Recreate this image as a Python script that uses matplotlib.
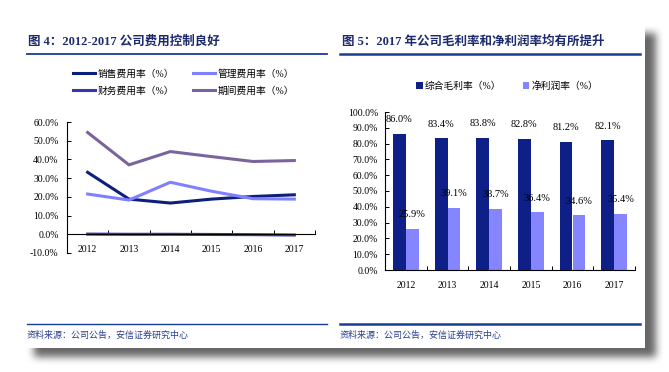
import numpy as np
import matplotlib
matplotlib.use("Agg")
import matplotlib.pyplot as plt
from matplotlib.patches import Rectangle
from matplotlib.ticker import FixedLocator, FuncFormatter

plt.rcParams['font.family'] = ['Liberation Serif', 'Noto Sans CJK SC']
plt.rcParams['axes.unicode_minus'] = False

# chart data
years = ['2012', '2013', '2014', '2015', '2016', '2017']
sales_rate = [33.1, 18.8, 16.7, 18.8, 20.2, 21.1]
admin_rate = [21.5, 18.3, 27.8, 23.0, 19.0, 18.8]
fin_rate = [0.1, 0.0, 0.0, -0.1, -0.2, -0.4]
period_rate = [54.4, 37.1, 44.2, 41.5, 38.9, 39.4]

gross_margin = [86.0, 83.4, 83.8, 82.8, 81.2, 82.1]
net_margin = [25.9, 39.1, 38.7, 36.4, 34.6, 35.4]

W, H = 669, 372
fig = plt.figure(figsize=(W / 100, H / 100), dpi=100)
fig.patch.set_facecolor('white')


def fx(px):
    return px / W


def fy(py):
    return 1 - py / H


# background: drop shadow + white panel
bg = fig.add_axes([0, 0, 1, 1], zorder=0)
bg.set_xlim(0, W)
bg.set_ylim(H, 0)
bg.axis('off')
mask = np.zeros((H, W))
mask[33:357, 34:656] = 1.0
k = np.ones(9) / 9
for _ in range(2):
    mask = np.apply_along_axis(lambda m: np.convolve(m, k, mode='same'), 0, mask)
    mask = np.apply_along_axis(lambda m: np.convolve(m, k, mode='same'), 1, mask)
shadow = np.zeros((H, W, 4))
shadow[..., :3] = 0.3
shadow[..., 3] = mask * 0.85
bg.imshow(shadow, extent=[0, W, H, 0], interpolation='bilinear', aspect='auto')
bg.add_patch(Rectangle((25, 24), 620, 324, facecolor='white', edgecolor='none', zorder=2))

title_c = '#1d2b6e'
rule_c = '#1a3c95'
bg.text(28, 42, '图 4：2012-2017 公司费用控制良好', fontsize=9, fontweight='bold',
        color=title_c, va='center', ha='left', zorder=3)
bg.text(342, 42, '图 5：2017 年公司毛利率和净利润率均有所提升', fontsize=9, fontweight='bold',
        color=title_c, va='center', ha='left', zorder=3)
bg.plot([27, 327], [54, 54], color=rule_c, lw=1.3, zorder=3)
bg.plot([340, 640], [54, 54], color=rule_c, lw=1.8, zorder=3)
bg.plot([27, 327], [324, 324], color=rule_c, lw=1.0, zorder=3)
bg.plot([340, 640], [324, 324], color=rule_c, lw=1.8, zorder=3)
bg.text(27, 335, '资料来源：公司公告，安信证券研究中心', fontsize=6.5, color='#2a3f8f',
        va='center', ha='left', zorder=3)
bg.text(340, 335, '资料来源：公司公告，安信证券研究中心', fontsize=6.5, color='#2a3f8f',
        va='center', ha='left', zorder=3)

x = np.arange(len(years))

# left: expense ratios
ax1 = fig.add_axes([fx(67), fy(253), fx(315) - fx(67), fy(122) - fy(253)], zorder=2)
ax1.patch.set_alpha(0)
l_sales, = ax1.plot(x, sales_rate, color='#0d1f7c', lw=2.2, label='销售费用率（%）')
l_admin, = ax1.plot(x, admin_rate, color='#8080ff', lw=2.2, label='管理费用率（%）')
l_fin, = ax1.plot(x, fin_rate, color='#3535b5', lw=2.2, label='财务费用率（%）')
l_period, = ax1.plot(x, period_rate, color='#7b649e', lw=2.2, label='期间费用率（%）')
ax1.set_xlim(-0.5, 5.5)
ax1.set_ylim(-10, 60)
ax1.set_yticks(np.arange(-10, 61, 10))
ax1.yaxis.set_major_formatter(FuncFormatter(lambda v, p: f'{v:.1f}%'))
ax1.spines['top'].set_visible(False)
ax1.spines['right'].set_visible(False)
ax1.spines['bottom'].set_position(('data', 0))
ax1.set_xticks(x)
ax1.set_xticklabels(years)
ax1.xaxis.set_minor_locator(FixedLocator(np.arange(-0.5, 6, 1)))
ax1.tick_params(axis='x', which='major', length=0, pad=8, labelsize=7)
ax1.tick_params(axis='x', which='minor', direction='in', length=3, width=0.7)
ax1.tick_params(axis='y', direction='in', length=3, width=0.7, pad=6, labelsize=7)
for s in ('left', 'bottom'):
    ax1.spines[s].set_linewidth(0.8)
fig.legend(handles=[l_sales, l_fin, l_admin, l_period], ncol=2, frameon=False,
           loc='upper left', bbox_to_anchor=(fx(73), fy(69)), fontsize=7,
           handlelength=2.3, handletextpad=0.25, columnspacing=1.9,
           labelspacing=0.75, borderpad=0, borderaxespad=0)

# right: margins
ax2 = fig.add_axes([fx(385), fy(270), fx(635) - fx(385), fy(112) - fy(270)], zorder=2)
ax2.patch.set_alpha(0)
bw = 0.31
b1 = ax2.bar(x - bw / 2, gross_margin, bw, color='#0e2088', label='综合毛利率（%）')
b2 = ax2.bar(x + bw / 2, net_margin, bw, color='#8585ff', label='净利润率（%）')
ax2.bar_label(b1, fmt='%.1f%%', padding=7, fontsize=7.5)
ax2.bar_label(b2, fmt='%.1f%%', padding=7, fontsize=7.5)
ax2.set_xlim(-0.5, 5.5)
ax2.set_ylim(0, 100)
ax2.set_yticks(np.arange(0, 101, 10))
ax2.yaxis.set_major_formatter(FuncFormatter(lambda v, p: f'{v:.1f}%'))
ax2.spines['top'].set_visible(False)
ax2.spines['right'].set_visible(False)
ax2.set_xticks(x)
ax2.set_xticklabels(years)
ax2.xaxis.set_minor_locator(FixedLocator(np.arange(-0.5, 6, 1)))
ax2.tick_params(axis='x', which='major', length=0, pad=8, labelsize=7)
ax2.tick_params(axis='x', which='minor', direction='in', length=3, width=0.7)
ax2.tick_params(axis='y', direction='in', length=3, width=0.7, pad=5, labelsize=7)
for s in ('left', 'bottom'):
    ax2.spines[s].set_linewidth(0.8)
fig.legend(handles=[b1, b2], ncol=2, frameon=False, loc='center left',
           bbox_to_anchor=(fx(416), fy(86)), fontsize=7, handlelength=0.7,
           handleheight=0.8, handletextpad=0.2, columnspacing=2.2,
           borderpad=0, borderaxespad=0)

fig.savefig('out.png', dpi=100)
